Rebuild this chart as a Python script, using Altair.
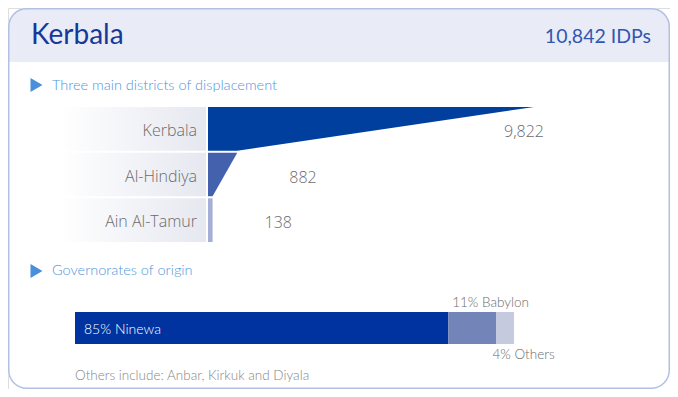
import altair as alt
import pandas as pd

# ---------------- data ----------------
location = "Kerbala"
districts = ["Kerbala", "Al-Hindiya", "Ain Al-Tamur"]
district_idps = [9822, 882, 138]
district_colors = ["#003f9e", "#4461ad", "#a5aed4"]

governorates = ["Ninewa", "Babylon", "Others"]
governorate_pct = [85, 11, 4]
governorate_colors = ["#0033a0", "#7384b8", "#c6cadf"]
others_include = ["Anbar", "Kirkuk", "Diyala"]

total_idps = sum(district_idps)

section1 = "Three main districts of displacement"
section2 = "Governorates of origin"

# ---------------- styles ----------------
W, H = 662, 381
HEAD_FONT = "Lato"
LABEL_FONT = "Open Sans"
BLUE_TXT = "#4f95dc"
GREY = "#6b6b6b"

one = pd.DataFrame({"k": [0]})

# funnel tables
G = 0.022
rows = []
for i, (d, v) in enumerate(zip(districts, district_idps)):
    nxt = district_idps[i + 1] if i + 1 < len(district_idps) else v
    rows.append(dict(district=d, y=i + G, value=v, base=0))
    rows.append(dict(district=d, y=i + 1 - G, value=nxt, base=0))
funnel_df = pd.DataFrame(rows)
dist_df = pd.DataFrame(dict(
    district=districts,
    idps=district_idps,
    rank=list(range(len(districts))),
    top=[i + G for i in range(len(districts))],
    bot=[i + 1 - G for i in range(len(districts))],
    mid=[i + 0.5 for i in range(len(districts))],
))

fx = alt.Scale(domain=[0, max(district_idps)], range=[200, 526], nice=False, zero=True)
fy = alt.Scale(domain=[0, len(districts)], range=[98, 235], nice=False, zero=False)

gov_df = pd.DataFrame(dict(gov=governorates, pct=governorate_pct,
                           order=list(range(len(governorates))), row="origin"))
gx = alt.Scale(domain=[0, 100], range=[67, 506], nice=False)
gy = alt.Scale(domain=["origin"], range=[304, 336], paddingInner=0, paddingOuter=0)

# ---------------- card ----------------
card_bg = alt.Chart(one).mark_rect(fill="white", cornerRadius=18).encode(
    x=alt.value(0), x2=alt.value(W), y=alt.value(0), y2=alt.value(H))
header = alt.Chart(one).mark_rect(fill="#e9ecf6", cornerRadiusTopLeft=18,
                                  cornerRadiusTopRight=18).encode(
    x=alt.value(0), x2=alt.value(W), y=alt.value(0), y2=alt.value(54))
card_border = alt.Chart(one).mark_rect(fill="white", fillOpacity=0, stroke="#b3c0e6",
                                       strokeWidth=1.5, cornerRadius=18).encode(
    x=alt.value(0.75), x2=alt.value(W - 0.75), y=alt.value(0.75), y2=alt.value(H - 0.75))

title = alt.Chart(one).mark_text(text=location, font=HEAD_FONT, fontSize=28, color="#15389a",
                                 align="left", baseline="alphabetic").encode(
    x=alt.value(23), y=alt.value(36))
idps = alt.Chart(one).mark_text(text=f"{total_idps:,} IDPs", font=HEAD_FONT, fontSize=19.5,
                                color="#3256b0", align="right",
                                baseline="alphabetic").encode(
    x=alt.value(643), y=alt.value(35))

def section(label, ycenter, ybase):
    tri = alt.Chart(one).mark_point(shape="triangle-right", filled=True, size=190,
                                    color="#4a8fdc", opacity=1).encode(
        x=alt.value(28.5), y=alt.value(ycenter))
    txt = alt.Chart(one).mark_text(text=label, font=HEAD_FONT, fontSize=14.5, fontWeight=300,
                                   color=BLUE_TXT, align="left", baseline="alphabetic").encode(
        x=alt.value(44), y=alt.value(ybase))
    return [tri, txt]

# ---------------- funnel ----------------
grad = alt.Gradient(gradient="linear", x1=0, x2=1, y1=0, y2=0,
                    stops=[alt.GradientStop(color="#ffffff", offset=0),
                           alt.GradientStop(color="#e6e8f0", offset=1)])
label_bg = alt.Chart(dist_df).mark_rect(fill=grad).encode(
    y=alt.Y("top:Q", scale=fy, axis=None), y2="bot:Q",
    x=alt.value(52), x2=alt.value(198))

funnel = alt.Chart(funnel_df).mark_area(orient="horizontal", interpolate="linear").encode(
    y=alt.Y("y:Q", scale=fy, axis=None),
    x=alt.X("value:Q", scale=fx, axis=None, stack=None),
    x2="base:Q",
    color=alt.Color("district:N", scale=alt.Scale(domain=districts, range=district_colors),
                    legend=None),
)

dlabels = alt.Chart(dist_df).mark_text(align="right", baseline="middle", font=LABEL_FONT,
                                       fontSize=16, fontWeight=300, color=GREY, dy=2).encode(
    y=alt.Y("mid:Q", scale=fy, axis=None), x=alt.value(189), text="district:N")

vlab_first = alt.Chart(dist_df).transform_filter(alt.datum.rank == 0).mark_text(
    align="right", baseline="middle", font=LABEL_FONT, fontSize=16, fontWeight=300,
    color=GREY, dx=10, dy=3).encode(
    x=alt.X("idps:Q", scale=fx, axis=None), y=alt.Y("mid:Q", scale=fy, axis=None),
    text=alt.Text("idps:Q", format=","))
vlab_rest = alt.Chart(dist_df).transform_filter(alt.datum.rank > 0).mark_text(
    align="left", baseline="middle", font=LABEL_FONT, fontSize=16, fontWeight=300,
    color=GREY, dx=52, dy=3).encode(
    x=alt.X("idps:Q", scale=fx, axis=None), y=alt.Y("mid:Q", scale=fy, axis=None),
    text=alt.Text("idps:Q", format=","))

# ---------------- origin bar ----------------
def gov_base():
    return alt.Chart(gov_df).transform_window(
        end="sum(pct)", sort=[alt.SortField("order")]
    ).transform_calculate(
        start="datum.end - datum.pct",
        label="datum.pct + '% ' + datum.gov",
    )

gbar = gov_base().mark_bar().encode(
    x=alt.X("start:Q", scale=gx, axis=None), x2="end:Q",
    y=alt.Y("row:N", scale=gy, axis=None),
    color=alt.Color("gov:N", scale=alt.Scale(domain=governorates, range=governorate_colors),
                    legend=None),
)

def gov_label(order, color, dx, dy, size):
    return gov_base().transform_filter(alt.datum.order == order).mark_text(
        align="left", baseline="alphabetic", font=HEAD_FONT, fontSize=size, fontWeight=300,
        color=color, dx=dx, dy=dy).encode(
        x=alt.X("start:Q", scale=gx, axis=None),
        y=alt.Y("row:N", scale=gy, axis=None),
        text="label:N")

note = alt.Chart(one).mark_text(
    text="Others include: " + ", ".join(others_include[:-1]) + " and " + others_include[-1],
    font=HEAD_FONT, fontSize=13.5, fontWeight=300, color="#858585", align="left",
    baseline="alphabetic").encode(
    x=alt.value(67), y=alt.value(372))

layers = [card_bg, header, title, idps]
layers += section(section1, 77, 82)
layers += [label_bg, funnel, dlabels, vlab_first, vlab_rest]
layers += section(section2, 263, 267)
layers += [gbar, gov_label(0, "white", 9, 6, 14), gov_label(1, GREY, 4, -21, 13.5),
           gov_label(2, GREY, -4, 31, 13.5), note, card_border]

chart = alt.layer(*layers).resolve_scale(
    x="independent", y="independent", color="independent"
).properties(
    width=W, height=H, padding=0, autosize="none"
).configure_view(stroke=None).configure(background="white")

chart.save("out.html", embed_options={"renderer": "svg", "actions": False})
